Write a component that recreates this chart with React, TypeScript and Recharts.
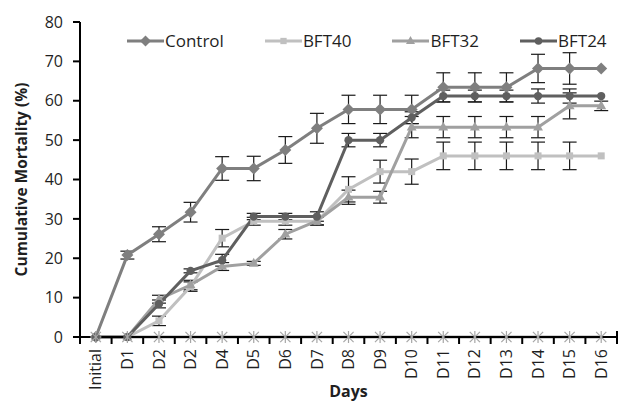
import React from 'react';
import { LineChart, Line, XAxis, YAxis, ErrorBar, Legend } from 'recharts';

const categories = ['Initial', 'D1', 'D2', 'D2', 'D4', 'D5', 'D6', 'D7', 'D8', 'D9', 'D10', 'D11', 'D12', 'D13', 'D14', 'D15', 'D16'];
const control = [0, 20.8, 26.1, 31.7, 42.8, 42.8, 47.5, 53, 57.8, 57.8, 57.8, 63.4, 63.4, 63.4, 68.2, 68.2, 68.2];
const controlErr = [0, 1, 1.9, 2.5, 3, 3.1, 3.4, 3.8, 3.6, 3.6, 3.6, 3.7, 3.7, 3.7, 3.6, 4, 0];
const bft40 = [0, 0, 4.1, 12.8, 25.1, 29.4, 29.4, 29.4, 37.5, 42, 42, 46, 46, 46, 46, 46, 46];
const bft40Err = [0, 0, 1.2, 1.2, 2.2, 1, 1, 1, 3.2, 2.9, 3.2, 3.5, 3.5, 3.5, 3.5, 3.5, 0];
const bft32 = [0, 0, 9.6, 13.2, 17.9, 18.7, 26.1, 29.5, 35.5, 35.5, 53.3, 53.3, 53.3, 53.3, 53.3, 58.7, 58.7];
const bft32Err = [0, 0, 1, 1.2, 1, 0.5, 1.2, 1, 1.8, 1.5, 2.7, 2.7, 2.7, 2.7, 2.7, 3.3, 1.2];
const bft24 = [0, 0, 8.4, 16.8, 19.5, 30.6, 30.6, 30.6, 50, 50, 55.7, 61.2, 61.2, 61.2, 61.2, 61.2, 61.2];
const bft24Err = [0, 0, 1, 0.5, 1.5, 0.8, 0.8, 1.2, 1.7, 1.7, 1.5, 1.5, 1.5, 1.5, 1.8, 1.8, 0];
const zero = [0, 0, 0, 0, 0, 0, 0, 0, 0, 0, 0, 0, 0, 0, 0, 0, 0];
const yTicks = [0, 10, 20, 30, 40, 50, 60, 70, 80];

const data = categories.map((c, i) => ({
  idx: i,
  control: control[i], controlErr: controlErr[i],
  bft40: bft40[i], bft40Err: bft40Err[i],
  bft32: bft32[i], bft32Err: bft32Err[i],
  bft24: bft24[i], bft24Err: bft24Err[i],
  zero: zero[i],
}));

const W = 623;
const H = 401;
const M = { top: 22, right: 6, bottom: 0, left: 0 };
const YAXIS_W = 80;
const XAXIS_H = 64;
const PLOT_W = W - M.left - M.right - YAXIS_W;
const STEP = PLOT_W / categories.length;
const AXIS_Y = H - M.bottom - XAXIS_H;
const FONT = '"Open Sans", sans-serif';
const TXT = '#1f1f1f';

const COLORS = { control: '#7f7f7f', bft40: '#c0c0c0', bft32: '#a0a0a0', bft24: '#5f5f5f', zero: '#a6a6a6' };

type Shape = 'diamond' | 'square' | 'triangle' | 'circle' | 'star';

function marker(shape: Shape, cx: number, cy: number, color: string, s: number, key?: any) {
  if (cx == null || cy == null) return <g key={key} />;
  switch (shape) {
    case 'diamond':
      return <polygon key={key} points={`${cx},${cy - s} ${cx + s},${cy} ${cx},${cy + s} ${cx - s},${cy}`} fill={color} />;
    case 'square':
      return <rect key={key} x={cx - s * 0.7} y={cy - s * 0.7} width={s * 1.4} height={s * 1.4} fill={color} />;
    case 'triangle':
      return <polygon key={key} points={`${cx},${cy - s} ${cx + s * 0.9},${cy + s * 0.6} ${cx - s * 0.9},${cy + s * 0.6}`} fill={color} />;
    case 'circle':
      return <circle key={key} cx={cx} cy={cy} r={s * 0.75} fill={color} />;
    case 'star':
      return (
        <g key={key} stroke={color} strokeWidth={1.2}>
          <line x1={cx} y1={cy - s} x2={cx} y2={cy + s} />
          <line x1={cx - s * 0.85} y1={cy - s * 0.85} x2={cx + s * 0.85} y2={cy + s * 0.85} />
          <line x1={cx - s * 0.85} y1={cy + s * 0.85} x2={cx + s * 0.85} y2={cy - s * 0.85} />
        </g>
      );
  }
}

const SERIES: { key: string; name: string; shape: Shape; size: number }[] = [
  { key: 'control', name: 'Control', shape: 'diamond', size: 5.5 },
  { key: 'bft40', name: 'BFT40', shape: 'square', size: 4.5 },
  { key: 'bft32', name: 'BFT32', shape: 'triangle', size: 5 },
  { key: 'bft24', name: 'BFT24', shape: 'circle', size: 5 },
];

const XTick = (props: any) => {
  const { x, payload, index } = props;
  const half = STEP / 2;
  const ty = AXIS_Y + 12;
  return (
    <g>
      <line x1={x - half} x2={x - half} y1={AXIS_Y} y2={AXIS_Y + 7} stroke="#000" strokeWidth={2} />
      {index === categories.length - 1 && (
        <line x1={x + half} x2={x + half} y1={AXIS_Y - 6} y2={AXIS_Y + 7} stroke="#000" strokeWidth={2} />
      )}
      <text
        x={x}
        y={ty}
        transform={`rotate(-90 ${x} ${ty})`}
        textAnchor="end"
        dy="0.35em"
        fontSize={16}
        fontFamily={FONT}
        fill={TXT}
      >
        {categories[payload.value]}
      </text>
    </g>
  );
};

const LegendContent = () => (
  <div style={{ display: 'flex', gap: 41, fontFamily: FONT, fontSize: 17, color: TXT, whiteSpace: 'nowrap' }}>
    {SERIES.map((s) => (
      <div key={s.key} style={{ display: 'flex', alignItems: 'center' }}>
        <svg width={37} height={14} style={{ display: 'block' }}>
          <line x1={0} x2={37} y1={7} y2={7} stroke={(COLORS as any)[s.key]} strokeWidth={3} />
          {marker(s.shape, 18.5, 7, (COLORS as any)[s.key], s.size)}
        </svg>
        <span style={{ marginLeft: 1 }}>{s.name}</span>
      </div>
    ))}
  </div>
);

export default function App() {
  return (
    <div style={{ position: 'absolute', left: 0, top: 0 }}>
      <LineChart width={W} height={H} data={data} margin={M}>
        <XAxis
          dataKey="idx"
          type="category"
          height={XAXIS_H}
          padding={{ left: STEP / 2, right: STEP / 2 }}
          axisLine={{ stroke: '#000', strokeWidth: 2 }}
          tickLine={false}
          tick={<XTick />}
          interval={0}
          label={{
            content: (p: any) => (
              <text x={p.viewBox.x + p.viewBox.width / 2} y={397} textAnchor="middle" fontSize={16} fontWeight="bold" fontFamily={FONT} fill={TXT}>
                Days
              </text>
            ),
          }}
        />
        <YAxis
          width={YAXIS_W}
          domain={[0, 80]}
          ticks={yTicks}
          interval={0}
          axisLine={{ stroke: '#000', strokeWidth: 2 }}
          tickLine={{ stroke: '#000', strokeWidth: 2 }}
          tickSize={7}
          tickMargin={10}
          tick={{ fontSize: 16, fontFamily: FONT, fill: TXT }}
          label={{
            content: (p: any) => {
              const cx = 22;
              const cy = p.viewBox.y + p.viewBox.height / 2;
              return (
                <text x={cx} y={cy} transform={`rotate(-90 ${cx} ${cy})`} textAnchor="middle" dy="0.35em" fontSize={15.5} fontWeight="bold" fontFamily={FONT} fill={TXT}>
                  Cumulative Mortality (%)
                </text>
              );
            },
          }}
        />
        <Legend
          layout="horizontal"
          verticalAlign="middle"
          align="center"
          content={<LegendContent />}
          wrapperStyle={{ top: 29, left: 127, width: 'auto' }}
        />
        {SERIES.map((s) => (
          <Line
            key={`${s.key}-err`}
            dataKey={s.key}
            name={`${s.name}-err`}
            legendType="none"
            stroke="none"
            strokeWidth={0}
            isAnimationActive={false}
            dot={false}
            activeDot={false}
          >
            <ErrorBar dataKey={`${s.key}Err`} direction="y" width={7} stroke="#1a1a1a" strokeWidth={1.2} />
          </Line>
        ))}
        {SERIES.map((s) => (
          <Line
            key={s.key}
            dataKey={s.key}
            name={s.name}
            stroke={(COLORS as any)[s.key]}
            strokeWidth={3}
            isAnimationActive={false}
            dot={(p: any) => marker(s.shape, p.cx, p.cy, (COLORS as any)[s.key], s.size + 0.5, p.key ?? p.index)}
            activeDot={false}
          />
        ))}
        <Line
          dataKey="zero"
          name="zero"
          legendType="none"
          stroke={COLORS.zero}
          strokeWidth={3}
          isAnimationActive={false}
          dot={(p: any) => marker('star', p.cx, p.cy, COLORS.zero, 6, p.key ?? p.index)}
          activeDot={false}
        />
      </LineChart>
    </div>
  );
}
